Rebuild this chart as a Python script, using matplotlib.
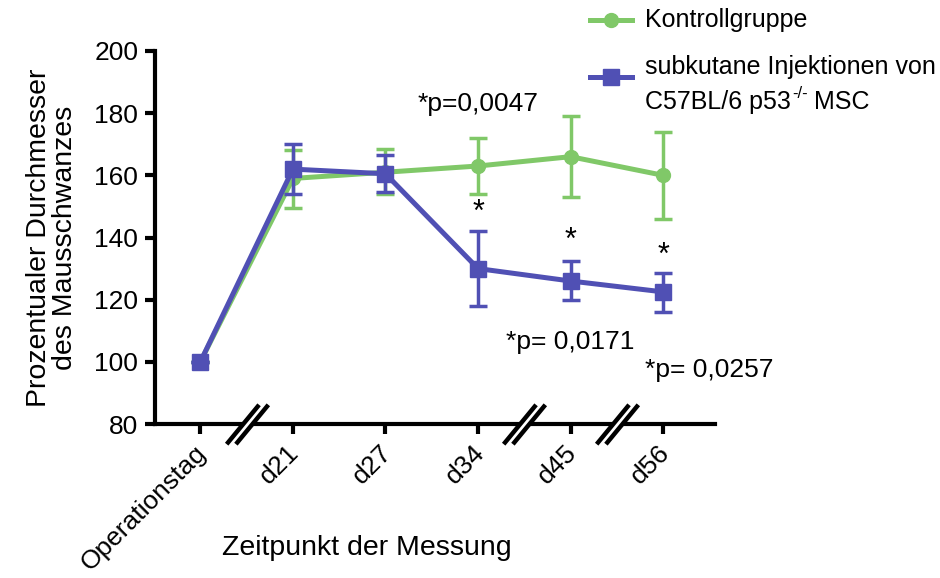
import numpy as np
import matplotlib
matplotlib.use("Agg")
import matplotlib.pyplot as plt
import matplotlib.transforms as mtransforms
from matplotlib.path import Path
from matplotlib.lines import Line2D

plt.rcParams['font.family'] = ['Liberation Sans', 'DejaVu Sans']

# Messzeitpunkte
zeitpunkte = ['Operationstag', 'd21', 'd27', 'd34', 'd45', 'd56']

# Kontrollgruppe: Mittelwert, obere / untere Fehlergrenze
kontrolle = [100, 159, 161, 163, 166, 160]
kontrolle_oben = [100, 168, 168.5, 172, 179, 174]
kontrolle_unten = [100, 149.5, 154, 154, 153, 146]

# subkutane Injektionen p53-/- MSC
msc = [100, 162, 160.5, 130, 126, 122.5]
msc_oben = [100, 170, 166.5, 142, 132.5, 128.5]
msc_unten = [100, 154, 154.5, 118, 120, 116]

# Signifikanzen
stern_pos = [3, 4, 5]
stern_y = [148, 139, 134]
p_texte = ['*p=0,0047', '*p= 0,0171', '*p= 0,0257']
p_x = [3.0, 4.0, 4.8]
p_y = [183, 106.5, 97.5]
p_ha = ['center', 'center', 'left']

# Achsenunterbrechungen
brueche = [0.5, 3.5, 4.5]

gruen = '#80c868'
blau = '#5050b4'

fig = plt.figure(figsize=(9.4, 5.78), dpi=100)
ax = fig.add_axes([155 / 940, 1 - 424 / 578, (715 - 155) / 940, (424 - 51) / 578])

x = np.arange(len(zeitpunkte))


def fehler(mw, oben, unten):
    mw = np.array(mw)
    return [mw - np.array(unten), np.array(oben) - mw]


ax.errorbar(x, kontrolle, yerr=fehler(kontrolle, kontrolle_oben, kontrolle_unten),
            color=gruen, lw=3.6, marker='o', ms=10, capsize=6.5, capthick=2.5,
            elinewidth=2.5, zorder=3, clip_on=False)
ax.errorbar(x, msc, yerr=fehler(msc, msc_oben, msc_unten),
            color=blau, lw=3.6, marker='s', ms=12, capsize=6.5, capthick=2.5,
            elinewidth=2.5, zorder=4, clip_on=False)

ax.set_xlim(-0.49, 5.56)
ax.set_ylim(80, 200)
ax.set_yticks(range(80, 201, 20))
ax.set_xticks(x)
ax.set_xticklabels(zeitpunkte, rotation=45, ha='right', rotation_mode='anchor')
ax.tick_params(labelsize=19, width=3, length=7, direction='out', pad=5)
# Beschriftungen etwas nach links ruecken
verschiebung = mtransforms.ScaledTranslation(-6 / 100, 0, fig.dpi_scale_trans)
for lbl in ax.get_xticklabels():
    lbl.set_transform(lbl.get_transform() + verschiebung)
for s in ['top', 'right']:
    ax.spines[s].set_visible(False)
for s in ['left', 'bottom']:
    ax.spines[s].set_linewidth(3)
    ax.spines[s].set_capstyle('projecting')

ax.set_ylabel('Prozentualer Durchmesser\ndes Mausschwanzes', fontsize=20.5,
              linespacing=1.0, labelpad=12)
fig.text(367 / 940, 1 - 548 / 578, 'Zeitpunkt der Messung', fontsize=20.5,
         ha='center', va='center')

# Unterbrechungszeichen auf der x-Achse
d = 0.2
luecke = Path([(-0.7 - d, -0.85), (-0.7 + d, -0.85), (0.7 + d, 0.85),
               (0.7 - d, 0.85), (-0.7 - d, -0.85)])
striche = Path([(-0.7 - d, -0.85), (0.7 - d, 0.85), (-0.7 + d, -0.85), (0.7 + d, 0.85)],
               [Path.MOVETO, Path.LINETO, Path.MOVETO, Path.LINETO])
ax.plot(brueche, [80] * len(brueche), ls='none', marker=luecke, ms=30,
        mfc='white', mec='none', clip_on=False, zorder=5)
ax.plot(brueche, [80] * len(brueche), ls='none', marker=striche, ms=30,
        mfc='none', mec='black', mew=3.2, clip_on=False, zorder=6)

for xs, ys in zip(stern_pos, stern_y):
    ax.text(xs, ys, '*', fontsize=22, ha='center', va='center')
for t, xs, ys, ha in zip(p_texte, p_x, p_y, p_ha):
    ax.text(xs, ys, t, fontsize=19, ha=ha, va='center', clip_on=False)

# Legende
fig.add_artist(Line2D([590 / 940, 632 / 940], [1 - 20 / 578] * 2, color=gruen, lw=3.6,
                      transform=fig.transFigure))
fig.add_artist(Line2D([611 / 940], [1 - 20 / 578], color=gruen, marker='o', ms=10,
                      transform=fig.transFigure))
fig.add_artist(Line2D([590 / 940, 632 / 940], [1 - 77 / 578] * 2, color=blau, lw=3.6,
                      transform=fig.transFigure))
fig.add_artist(Line2D([611 / 940], [1 - 77 / 578], color=blau, marker='s', ms=12,
                      transform=fig.transFigure))
fig.text(645 / 940, 1 - 20 / 578, 'Kontrollgruppe', fontsize=18, va='center')
fig.text(645 / 940, 1 - 67 / 578, 'subkutane Injektionen von', fontsize=18, va='center')

# zweite Zeile mit hochgestelltem "-/-"
renderer = fig.canvas.get_renderer()
t1 = fig.text(645 / 940, 1 - 102 / 578, 'C57BL/6 p53', fontsize=18, va='center')
x1 = t1.get_window_extent(renderer).x1
t2 = fig.text(x1 / 940 + 0.001, 1 - 94 / 578, '-/-', fontsize=12, va='center')
x2 = t2.get_window_extent(renderer).x1
fig.text(x2 / 940, 1 - 102 / 578, ' MSC', fontsize=18, va='center')

fig.savefig('out.png', dpi=100)
